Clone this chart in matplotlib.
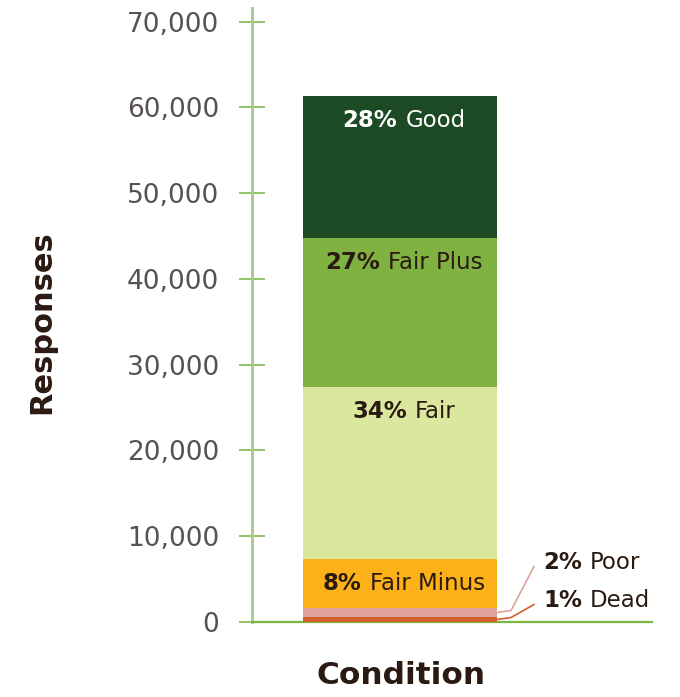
import matplotlib
matplotlib.use("Agg")
import matplotlib.pyplot as plt
from matplotlib.lines import Line2D
from matplotlib.ticker import FuncFormatter

# data, bottom to top
categories = ["Dead", "Poor", "Fair Minus", "Fair", "Fair Plus", "Good"]
responses = [580, 1050, 5720, 20070, 17380, 16570]
pct_labels = ["1%", "2%", "8%", "34%", "27%", "28%"]
yticks = [0, 10000, 20000, 30000, 40000, 50000, 60000, 70000]

COLORS = ["#d2602a", "#e0a29c", "#fbb117", "#dbe69f", "#80b241", "#1c4a25"]
TXT = ["#2a1a12"] * 5 + ["white"]
INK = "#2a1a12"; GREY = "#575151"
plt.rcParams["font.family"] = ["DejaVu Sans"]

fig = plt.figure(figsize=(6.8, 6.97), dpi=100)
ax = fig.add_axes([252/680, 1-622/697, 400/680, 614/697])
ax.set_xlim(0, 1); ax.set_ylim(0, 71600)

BX, BW = 0.37, 0.485
bottoms = []
b = 0
for v, c in zip(responses, COLORS):
    ax.bar(BX, v, bottom=b, width=BW, color=c, zorder=3)
    bottoms.append(b); b += v

for s in ["top", "right"]:
    ax.spines[s].set_visible(False)
ax.spines["left"].set_color("#a8c98a"); ax.spines["left"].set_linewidth(2)
ax.spines["bottom"].set_color("#7db544"); ax.spines["bottom"].set_linewidth(1.6)
ax.set_xticks([])
ax.set_yticks(yticks)
ax.yaxis.set_major_formatter(FuncFormatter(lambda v, p: f"{int(v):,}"))
ax.tick_params(axis="y", direction="inout", length=19, width=1.3, color="#8dbd5e",
               pad=14, labelsize=19, labelcolor=GREY)

fig.text(42/680, 1-322/697, "Responses", rotation=90, ha="center", va="center",
         fontsize=22, fontweight="bold", color=INK)
fig.text(401/680, 1-676/697, "Condition", ha="center", va="center",
         fontsize=22.5, fontweight="bold", color=INK)

fig.canvas.draw()
r = fig.canvas.get_renderer()

def two_part(xd, yd, bold, reg, color, align="center", size=16.5):
    t1 = fig.text(0, 0, bold, fontweight="bold", fontsize=size, color=color, va="center", transform=None)
    t2 = fig.text(0, 0, reg, fontsize=size, color=color, va="center", transform=None)
    w1 = t1.get_window_extent(r).width; w2 = t2.get_window_extent(r).width
    gap = size * 0.5
    x0 = xd - (w1 + gap + w2) / 2 if align == "center" else xd
    t1.set_position((x0, yd)); t2.set_position((x0 + w1 + gap, yd))

# inside labels, ~25px below each segment top
for i in range(2, 6):
    top = bottoms[i] + responses[i]
    x, y = ax.transData.transform((BX, top))
    two_part(x + 4, y - 25, pct_labels[i], categories[i], TXT[i])

# outside labels with leader lines
right = BX + BW / 2
for i, dy_lab in [(1, 50), (0, 19)]:
    mid = bottoms[i] + responses[i] / 2
    x, y = ax.transData.transform((right, mid))
    xs = [x, x + 14, x + 37]
    ys = [y, y + 2, y + dy_lab - 4]
    fig.add_artist(Line2D(xs, ys, transform=None, color=COLORS[i], lw=1.2))
    two_part(x + 46, y + dy_lab, pct_labels[i], categories[i], INK, align="left")

fig.savefig("out.png", dpi=100)
